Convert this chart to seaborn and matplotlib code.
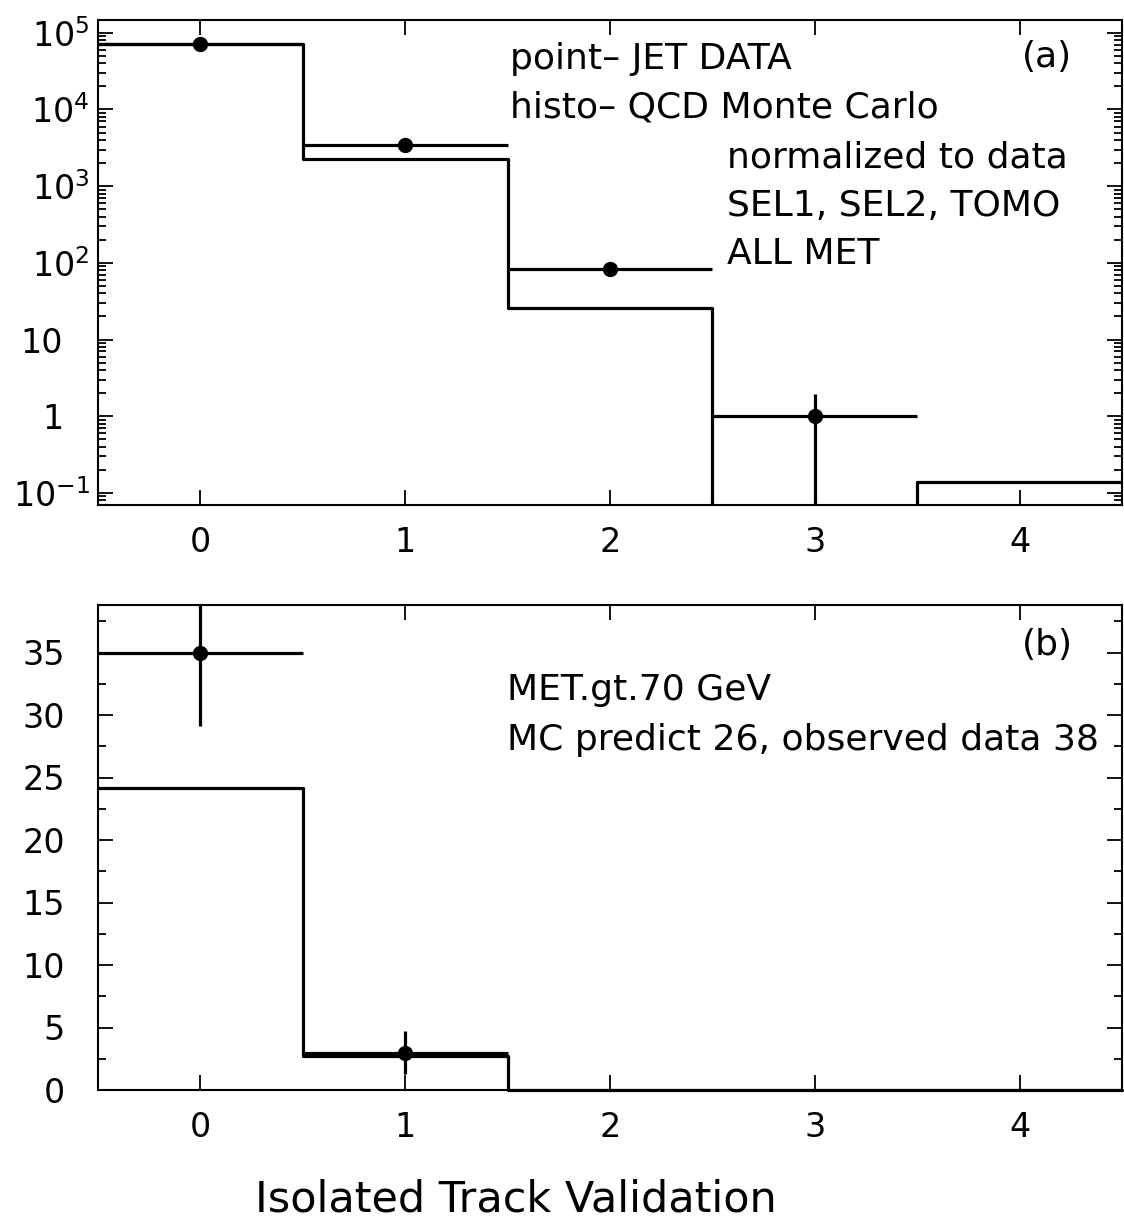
import numpy as np
import matplotlib
matplotlib.use("Agg")
import matplotlib.pyplot as plt
import seaborn as sns
from matplotlib.ticker import FixedLocator, FixedFormatter, LogLocator, MultipleLocator, NullFormatter

# bins: number of isolated tracks
edges = [-0.5, 0.5, 1.5, 2.5, 3.5, 4.5]
centers = [0, 1, 2, 3, 4]

# (a) all MET
mc_a = [71600, 2270, 26.1, 0, 0.14]
data_a = [71600, 3475, 83.7, 1.0, 0]
data_a_lo = [268, 59, 9.1, 1.0, 0]
data_a_hi = [268, 59, 9.1, 0.96, 0]

# (b) MET > 70 GeV
mc_b = [24.2, 2.75, 0, 0, 0]
data_b = [35, 3, 0, 0, 0]
data_b_lo = [5.9, 1.73, 0, 0, 0]
data_b_hi = [5.9, 1.73, 0, 0, 0]

text_a = ["point\u2013 JET DATA", "histo\u2013 QCD Monte Carlo",
          "normalized to data", "SEL1, SEL2, TOMO", "ALL MET"]
text_b = ["MET.gt.70 GeV", "MC predict 26, observed data 38"]

log_ticks = [0.1, 1, 10, 100, 1e3, 1e4, 1e5]
log_labels = [r"$10^{-1}$", "1", "10", r"$10^{2}$",
              r"$10^{3}$", r"$10^{4}$", r"$10^{5}$"]

sns.set_style("ticks")
plt.rcParams["font.family"] = ["DejaVu Sans"]
plt.rcParams["mathtext.fontset"] = "dejavusans"
plt.rcParams["text.color"] = "black"
plt.rcParams["xtick.color"] = "black"
plt.rcParams["ytick.color"] = "black"
plt.rcParams["xtick.labelcolor"] = "black"
plt.rcParams["ytick.labelcolor"] = "black"

W, H = 1124, 1219
fig = plt.figure(figsize=(W / 100, H / 100), dpi=100)
ax1 = fig.add_axes([98 / W, 1 - 505 / H, 1024 / W, 484.7 / H])
ax2 = fig.add_axes([98 / W, 1 - 1090 / H, 1024 / W, 485 / H])


def draw(ax, mc, data, lo, hi):
    sns.histplot(x=centers, weights=mc, bins=edges, element="step", fill=False,
                 color="black", linewidth=2.3, ax=ax)
    d = np.array(data, dtype=float)
    m = d > 0
    x = np.array(centers)[m]
    ax.errorbar(x, d[m], xerr=0.5,
                yerr=[np.array(lo)[m], np.array(hi)[m]],
                fmt="o", color="black", ms=10, elinewidth=2.3, capsize=0)


def style(ax):
    ax.set_xlim(-0.5, 4.5)
    ax.xaxis.set_major_locator(FixedLocator(centers))
    ax.tick_params(which="both", direction="in", top=True, right=True,
                   labelsize=24, width=1.3, color="black", labelcolor="black")
    ax.tick_params(which="major", length=11)
    ax.tick_params(which="minor", length=5.5)
    ax.tick_params(axis="x", pad=15)
    ax.tick_params(axis="x", which="minor", bottom=False, top=False)
    for s in ax.spines.values():
        s.set_linewidth(1.5)
        s.set_color("black")
    ax.set_xlabel("")
    ax.set_ylabel("")


# panel (a)
ax1.set_yscale("log")
draw(ax1, mc_a, data_a, data_a_lo, data_a_hi)
style(ax1)
ax1.set_ylim(0.0695, 1.456e5)
ax1.yaxis.set_major_locator(FixedLocator(log_ticks))
ax1.yaxis.set_major_formatter(FixedFormatter(log_labels))
ax1.yaxis.set_minor_locator(LogLocator(base=10, subs=np.arange(2, 10), numticks=20))
ax1.yaxis.set_minor_formatter(NullFormatter())
ax1.tick_params(axis="y", pad=6)
# plain labels sit left of the exponents, like the original
for i in (1, 2):
    ax1.yaxis.get_major_ticks()[i].set_pad(25)

# panel (b)
draw(ax2, mc_b, data_b, data_b_lo, data_b_hi)
style(ax2)
ax2.set_ylim(0, 38.8)
ax2.yaxis.set_major_locator(MultipleLocator(5))
ax2.yaxis.set_minor_locator(MultipleLocator(2.5))
ax2.tick_params(axis="y", pad=24)
# the empty bins sit on the axis line, show them full width
ax2.lines[0].set_clip_on(False)


def ftext(px, py, s, size=26):
    fig.text(px / W, 1 - py / H, s, fontsize=size, va="baseline", ha="left",
             color="black")


for s, (px, py) in zip(text_a, [(510, 69), (510, 118), (727, 167), (727, 216), (727, 264)]):
    ftext(px, py, s)
ftext(1022, 67, "(a)")

for s, (px, py) in zip(text_b, [(507, 700), (507, 750)]):
    ftext(px, py, s)
ftext(1022, 655, "(b)")

fig.text(516 / W, 1 - 1212 / H, "Isolated Track Validation", fontsize=31,
         ha="center", va="baseline", color="black")

fig.savefig("out.png", dpi=100)
